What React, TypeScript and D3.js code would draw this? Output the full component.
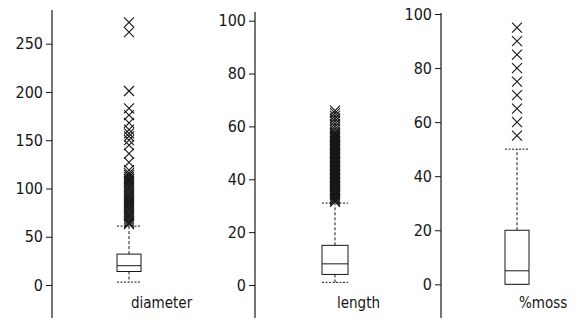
import { useEffect, useRef } from 'react';
import * as d3 from 'd3';

// summary stats: [lower whisker, q1, median, q3, upper whisker]
const variables = ['diameter', 'length', '%moss'];
const diameterStats = [3, 14, 20, 32, 61];
const lengthStats = [1, 4, 8, 15, 31];
const mossStats = [0, 0, 5, 20, 50];

const diameterOutliers = [
    272, 262, 201, 183, 176, 168, 161, 157, 154, 150, 145, 136, 127, 119, 116,
    114, 112, 110, 108, 106, 104, 102, 100, 98, 96, 94, 92, 90, 88, 86, 84, 82,
    80, 78, 76, 74, 72, 70, 68, 66, 64, 63,
];
const lengthOutliers = [
    31.5, 32, 32.5, 33, 33.5, 34, 34.5, 35, 35.5, 36, 36.5, 37, 37.5, 38, 38.5,
    39, 39.5, 40, 40.5, 41, 41.5, 42, 42.5, 43, 43.5, 44, 44.5, 45, 45.5, 46,
    46.5, 47, 47.5, 48, 48.5, 49, 49.5, 50, 50.5, 51, 51.5, 52, 52.5, 53, 53.5,
    54, 54.5, 55, 55.5, 56, 56.5, 57, 57.5, 58, 59, 60, 61, 62, 63, 64, 65, 66,
];
const mossOutliers = [55, 60, 65, 70, 75, 80, 85, 90, 95];

const diameterTicks = [0, 50, 100, 150, 200, 250];
const lengthTicks = [0, 20, 40, 60, 80, 100];
const mossTicks = [0, 20, 40, 60, 80, 100];

const stats = [diameterStats, lengthStats, mossStats];
const outliers = [diameterOutliers, lengthOutliers, mossOutliers];
const ticks = [diameterTicks, lengthTicks, mossTicks];

// pixel layout of each panel
const panels = [
    { axisX: 52, top: 10, bottom: 318, y0: 285, yMax: 43.7, vMax: 250, cx: 129, bw: 24 },
    { axisX: 255, top: 12, bottom: 318, y0: 285, yMax: 20.7, vMax: 100, cx: 335, bw: 26 },
    { axisX: 441, top: 13, bottom: 318, y0: 284.3, yMax: 14, vMax: 100, cx: 517, bw: 24 },
];

const W = 580;
const H = 323;
const ink = '#161616';
const font = '"DejaVu Sans Condensed", "DejaVu Sans", sans-serif';

const App = () => {
    const svgRef = useRef<SVGSVGElement>(null);

    useEffect(() => {
        const svg = d3.select(svgRef.current);
        svg.selectAll('*').remove();

        panels.forEach((p, i) => {
            const y = d3.scaleLinear().domain([0, p.vMax]).range([p.y0, p.yMax]);
            const g = svg.append('g');

            // axis
            const axis = g
                .append('g')
                .attr('transform', `translate(${p.axisX},0)`)
                .call(d3.axisLeft(y).tickValues(ticks[i]).tickSize(6).tickPadding(3));
            axis.select('.domain').remove();
            axis.selectAll('line').attr('stroke', ink);
            axis.selectAll('text')
                .attr('fill', ink)
                .style('font-family', font)
                .style('font-size', '16px');
            g.append('line')
                .attr('x1', p.axisX)
                .attr('x2', p.axisX)
                .attr('y1', p.top)
                .attr('y2', p.bottom)
                .attr('stroke', ink)
                .attr('stroke-width', 1.2);

            const [lo, q1, med, q3, hi] = stats[i];
            const x0 = p.cx - p.bw / 2;
            const x1 = p.cx + p.bw / 2;

            // whiskers
            g.append('line')
                .attr('x1', p.cx)
                .attr('x2', p.cx)
                .attr('y1', y(q3))
                .attr('y2', y(hi))
                .attr('stroke', ink)
                .attr('stroke-dasharray', '3,2');
            g.append('line')
                .attr('x1', p.cx)
                .attr('x2', p.cx)
                .attr('y1', y(q1))
                .attr('y2', y(lo))
                .attr('stroke', ink)
                .attr('stroke-dasharray', '3,2');
            [hi, lo].forEach(v => {
                g.append('line')
                    .attr('x1', x0)
                    .attr('x2', x1)
                    .attr('y1', y(v))
                    .attr('y2', y(v))
                    .attr('stroke', ink)
                    .attr('stroke-dasharray', '2,1.5');
            });

            // box
            g.append('rect')
                .attr('x', x0)
                .attr('y', y(q3))
                .attr('width', p.bw)
                .attr('height', y(q1) - y(q3))
                .attr('fill', 'white')
                .attr('stroke', ink);
            g.append('line')
                .attr('x1', x0)
                .attr('x2', x1)
                .attr('y1', y(med))
                .attr('y2', y(med))
                .attr('stroke', ink);

            // outliers as crosses
            const s = 5;
            g.selectAll('path.out')
                .data(outliers[i])
                .join('path')
                .attr('class', 'out')
                .attr(
                    'd',
                    d =>
                        `M${p.cx - s},${y(d) - s}L${p.cx + s},${y(d) + s}M${p.cx - s},${y(d) + s}L${p.cx + s},${y(d) - s}`
                )
                .attr('stroke', ink)
                .attr('stroke-width', 1.1)
                .attr('fill', 'none');

            // variable name
            g.append('text')
                .attr('x', p.cx + 2)
                .attr('y', 308)
                .attr('fill', ink)
                .style('font-family', font)
                .style('font-size', '15px')
                .text(variables[i]);
        });
    }, []);

    return (
        <div style={{ position: 'absolute', left: 0, top: 0, background: 'white' }}>
            <svg ref={svgRef} width={W} height={H}></svg>
        </div>
    );
};

export default App;
